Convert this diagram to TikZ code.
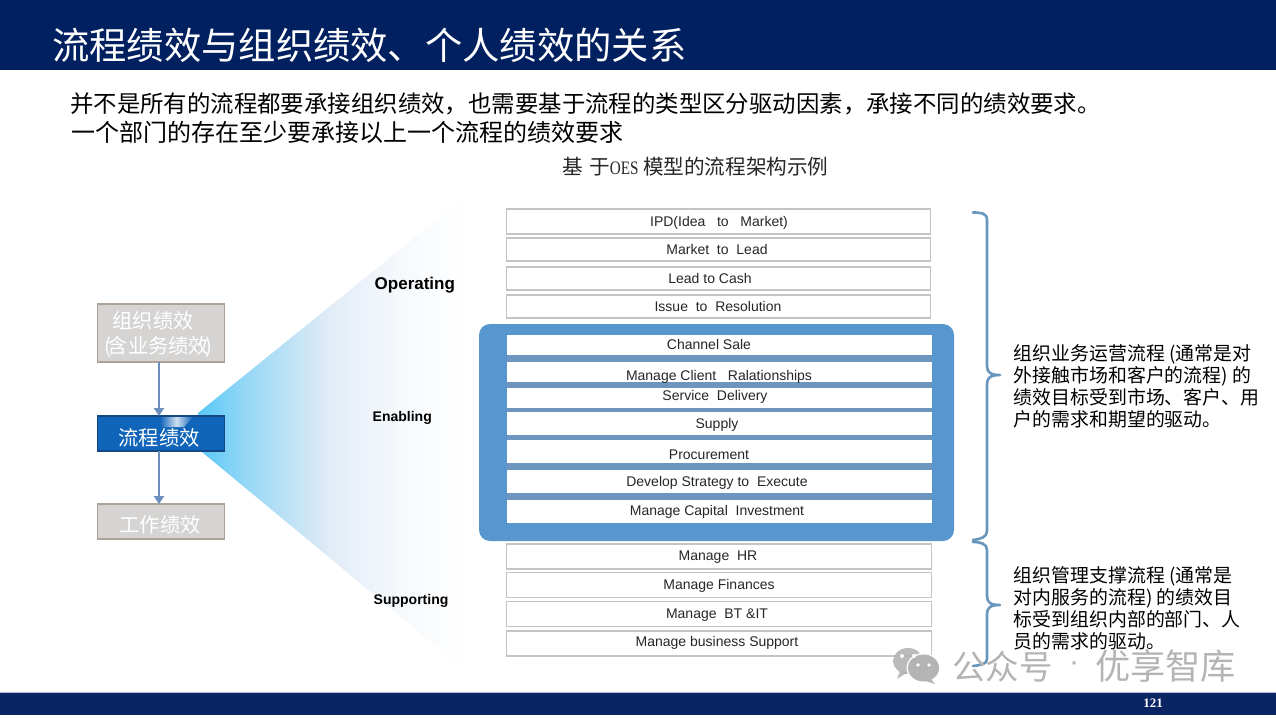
\documentclass[tikz,border=0pt]{standalone}
\usepackage{fontspec}
\usepackage{graphicx}
\setmainfont{Liberation Sans}
\newfontfamily\cjk{Noto Sans CJK SC}
\newfontfamily\pagefont{Liberation Serif}
\usetikzlibrary{arrows.meta,shadings}
\definecolor{navy}{RGB}{0,32,96}
\definecolor{navyb}{RGB}{10,36,100}
\definecolor{panel}{RGB}{88,150,208}
\definecolor{band}{RGB}{108,150,192}
\definecolor{rowline}{RGB}{196,196,196}
\definecolor{grayfill}{RGB}{214,212,210}
\definecolor{grayline}{RGB}{172,162,152}
\definecolor{flowblue}{RGB}{16,100,186}
\definecolor{flowline}{RGB}{20,70,130}
\definecolor{arrowc}{RGB}{108,142,188}
\definecolor{bracec}{RGB}{104,150,188}
\definecolor{wm}{RGB}{180,180,180}
\definecolor{s0}{RGB}{88,200,246}
\definecolor{s1}{RGB}{150,215,246}
\definecolor{s2}{RGB}{190,226,246}
\definecolor{s3}{RGB}{226,236,246}
\definecolor{s4}{RGB}{246,249,252}
\pgfdeclarehorizontalshading{cone}{100bp}{color(0bp)=(s0);color(25bp)=(s0);color(34bp)=(s1);color(42bp)=(s2);color(50bp)=(s3);color(63bp)=(s4);color(75bp)=(white);color(100bp)=(white)}
\tikzset{
  rowbox/.style={draw=#1,fill=white,line width=1.3pt,anchor=north west,inner sep=0pt,outer sep=0pt},
  rowtext/.style={font=\fontsize{14}{16}\selectfont,text=black!85,inner sep=0pt,yshift=-1.5pt},
  sidelabel/.style={font=\bfseries\fontsize{14}{16}\selectfont,text=black,anchor=west,inner sep=0pt,yshift=-1.5pt},
  cjktext/.style={font=\cjk\fontsize{18.9}{22}\selectfont,text=black,anchor=north west,align=left,inner sep=0pt},
  leftbox/.style={draw=grayline,fill=grayfill,line width=1.2pt,anchor=north west,inner sep=0pt,outer sep=0pt,minimum width=127pt},
  lefttext/.style={inner sep=0pt,text=white,font=\cjk\fontsize{20.3}{24}\selectfont},
  flowarrow/.style={draw=arrowc,line width=2.8pt,-{Triangle[length=8pt,width=10pt]}},
  bracepath/.style={draw=bracec,line width=2.6pt,line cap=round,line join=round},
}
\newcommand{\procrow}[8]{%
  \node[rowbox=#8,minimum width=#3pt,minimum height=#5pt] (#1) at (#2,#4) {};
  \node[rowtext] (#1t) at (#6,#7) {\strut\smash{\csname proc#1\endcsname}};
}
\begin{document}
\begin{tikzpicture}[x=1pt,y=-1pt]
\useasboundingbox (0,0) rectangle (1276,717);
\fill[white] (0,0) rectangle (1276,717);
% bars
\fill[navy] (0,0) rectangle (1276,70);
\fill[navyb] (0,692.5) rectangle (1276,714.5);
\draw[white!70!navy,line width=.8pt] (0,692.5) -- (1276,692.5);
\node[anchor=west,inner sep=0pt,text=white,font=\cjk\fontsize{37.3}{40}\selectfont] (title) at (52,45) {流程绩效与组织绩效、个人绩效的关系};
\node[anchor=west,inner sep=0pt,font=\cjk\fontsize{23.42}{26}\selectfont,text=black] (sub1) at (70,104) {并不是所有的流程都要承接组织绩效，也需要基于流程的类型区分驱动因素，承接不同的绩效要求。};
\node[anchor=west,inner sep=0pt,font=\cjk\fontsize{24}{26}\selectfont,text=black] (sub2) at (71,132) {一个部门的存在至少要承接以上一个流程的绩效要求};
\node[anchor=west,inner sep=0pt,font=\cjk\fontsize{20.6}{22}\selectfont,text=black!85] (cap) at (562,167) {基\hspace{6.5pt}于\scalebox{0.8}[1]{\pagefont\fontsize{19}{22}\selectfont OES}\hspace{4.5pt}模型的流程架构示例};
% cone
\shade[shading=cone] (198,413) -- (465,197) -- (465,670) -- (202,452) -- cycle;
% left boxes
\node[leftbox,minimum height=58pt] (org) at (97.5,304) {};
\node[lefttext] (orgt1) at (153,321) {组织绩效};
\node[lefttext] (orgt2) at (158.5,347) {(\kern-4pt含业务绩效\kern-4pt)};
\node[leftbox,draw=flowline,fill=flowblue,minimum height=35pt] (flow) at (97.5,416) {};
\shade[left color=flowblue,right color=flowblue,middle color=white!80!flowblue] (160,417) -- (193,417) -- (184,427) -- (160,427) -- cycle;
\node[lefttext] (flowt) at (159,437.5) {流程绩效};
\node[leftbox,minimum height=35pt] (work) at (97.5,504) {};
\node[lefttext] (workt) at (160,525) {工作绩效};
\draw[flowarrow] ([xshift=-2pt]org.south) -- ([xshift=-2pt]flow.north);
\draw[flowarrow] ([xshift=-2pt]flow.south) -- ([xshift=-2pt]work.north);
% side labels
\node[sidelabel,font=\bfseries\fontsize{17}{20}\selectfont] (op) at (374.5,284) {Operating};
\node[sidelabel] (en) at (372.5,416) {Enabling};
\node[sidelabel] (su) at (373.5,599) {Supporting};
% panel
\node[draw=none,fill=panel,rounded corners=11pt,anchor=north west,minimum width=475pt,minimum height=217pt,inner sep=0pt,outer sep=0pt] (panelbox) at (479,324) {};
\node[fill=band,anchor=north west,minimum width=425pt,minimum height=188pt,inner sep=0pt,outer sep=0pt] (bandbox) at (506.7,335) {};
% rows
\expandafter\def\csname procipd\endcsname{IPD(Idea\ \ \ to\ \ \ Market)}
\expandafter\def\csname procmkt\endcsname{Market\ \ to\ \ Lead}
\expandafter\def\csname proclead\endcsname{Lead to Cash}
\expandafter\def\csname procissue\endcsname{Issue\ \ to\ \ Resolution}
\expandafter\def\csname procch\endcsname{Channel Sale}
\expandafter\def\csname procmcr\endcsname{Manage Client\ \ \ Ralationships}
\expandafter\def\csname procsd\endcsname{Service\ \ Delivery}
\expandafter\def\csname procsup\endcsname{Supply}
\expandafter\def\csname procpro\endcsname{Procurement}
\expandafter\def\csname procdev\endcsname{Develop Strategy to\ \ Execute}
\expandafter\def\csname procmci\endcsname{Manage Capital\ \ Investment}
\expandafter\def\csname prochr\endcsname{Manage\ \ HR}
\expandafter\def\csname procfin\endcsname{Manage Finances}
\expandafter\def\csname procbt\endcsname{Manage\ \ BT\ \&IT}
\expandafter\def\csname procbs\endcsname{Manage business Support}
\procrow{ipd}{506.5}{424}{209}{25}{719}{222}{rowline}
\procrow{mkt}{506.5}{424}{238}{23}{717}{250}{rowline}
\procrow{lead}{506.5}{424}{267}{23}{710}{279}{rowline}
\procrow{issue}{506.5}{424}{295}{23}{718}{307}{rowline}
\procrow{ch}{507.35}{423.7}{335.6}{19}{709}{345}{white}
\procrow{mcr}{507.35}{423.7}{362.6}{19}{719}{376}{white}
\procrow{sd}{507.35}{423.7}{388.4}{19}{715}{396}{white}
\procrow{sup}{507.35}{423.7}{412.6}{22}{717}{424}{white}
\procrow{pro}{507.35}{423.7}{440.6}{22}{709}{455}{white}
\procrow{dev}{507.35}{423.7}{470.6}{22}{717}{482}{white}
\procrow{mci}{507.35}{423.7}{500.6}{22}{717}{511}{white}
\procrow{hr}{506.5}{425}{544}{25}{718}{556}{rowline}
\procrow{fin}{506.5}{425}{572.5}{25}{719}{585}{rowline}
\procrow{bt}{506.5}{425}{601.5}{25}{717}{614}{rowline}
\procrow{bs}{506.5}{425}{631}{25}{717}{642}{rowline}
% braces
\coordinate (b1tip) at (1000,375);
\coordinate (b2tip) at (1000,605);
\draw[bracepath] (973,212.5) .. controls (981,212.5) and (987,213) .. (987,220) -- (987,366) .. controls (987,372) and (990,375) .. (b1tip) (b1tip) .. controls (990,375) and (987,378) .. (987,384) -- (987,531) .. controls (987,537) and (981,539) .. (973,540);
\draw[bracepath] (973,542) .. controls (981,542) and (987,544) .. (987,550) -- (987,596) .. controls (987,602) and (990,605) .. (b2tip) (b2tip) .. controls (990,605) and (987,608) .. (987,614) -- (987,659) .. controls (987,664) and (981,665) .. (973,666);
% right text
\node[cjktext] (t1) at (1013.5,344.5) {组织业务运营流程 (通常是对\\外接触市场和客户的流程) 的\\绩效目标受到市场、客户、用\\户的需求和期望的驱动。};
\node[cjktext] (t2) at (1013.5,566) {组织管理支撑流程 (通常是\\对内服务的流程) 的绩效目\\标受到组织内部的部门、人\\员的需求的驱动。};
% watermark
\fill[wm,opacity=.9] (908,661) ellipse [x radius=15,y radius=13];
\fill[wm,opacity=.9] (900,671) -- (897,679) -- (908,672) -- cycle;
\fill[white] (923.5,668) ellipse [x radius=17,y radius=15];
\fill[wm] (923.5,668) ellipse [x radius=15.5,y radius=13.5];
\fill[wm] (930,678) -- (935,684) -- (923,680) -- cycle;
\fill[white] (902,656) circle (2) (914,656) circle (2) (918,665) circle (1.8) (929,665) circle (1.8);
\node[anchor=west,inner sep=0pt,text=wm,font=\cjk\fontsize{33.5}{36}\selectfont] (wmt) at (952,666.5) {公众号};
\node[inner sep=0pt,text=wm,font=\fontsize{30}{32}\selectfont] (wmdot) at (1074,666.5) {·};
\node[anchor=west,inner sep=0pt,text=wm,font=\cjk\fontsize{35.2}{38}\selectfont] (wmt2) at (1095,666.5) {优享智库};
% page number
\node[inner sep=0pt,text=white,font=\pagefont\bfseries\fontsize{13}{14}\selectfont] (page) at (1153,703.5) {121};
\end{tikzpicture}
\end{document}
